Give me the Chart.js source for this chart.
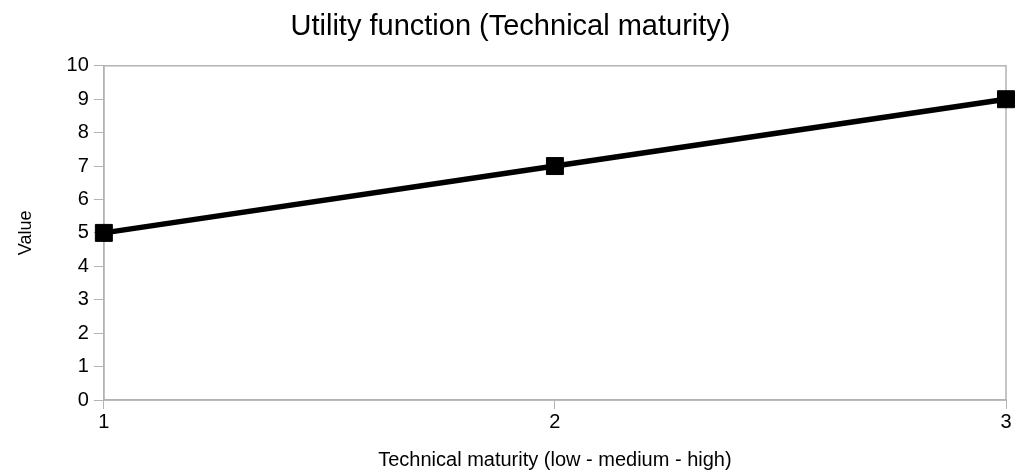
<!DOCTYPE html>
<html>
<head>
<meta charset="utf-8">
<script src="https://cdn.jsdelivr.net/npm/chart.js@4"></script>
<style>
  html, body { margin: 0; padding: 0; background: #fff; }
  #wrap { width: 1024px; height: 474px; }
</style>
</head>
<body>
<div id="wrap"><canvas id="c"></canvas></div>
<script>
const xValues = [1, 2, 3];
const utility = [5, 7, 9];
const yTicks = [0, 1, 2, 3, 4, 5, 6, 7, 8, 9, 10];

const GRAY = '#b3b3b3';
const FONT = "'Liberation Sans', Arial, sans-serif";

// gray frame around the plot area
const frame = {
  id: 'frame',
  beforeDatasetsDraw(chart) {
    const { ctx, chartArea: a } = chart;
    ctx.save();
    ctx.strokeStyle = GRAY;
    ctx.lineWidth = 1.5;
    ctx.strokeRect(a.left, a.top, a.right - a.left, a.bottom - a.top);
    ctx.restore();
  },
};

new Chart(document.getElementById('c'), {
  type: 'line',
  data: {
    datasets: [{
      data: xValues.map((x, i) => ({ x, y: utility[i] })),
      borderColor: '#000',
      backgroundColor: '#000',
      borderWidth: 5.5,
      pointStyle: 'rect',
      pointRadius: 12,
      pointHoverRadius: 12,
      pointBorderWidth: 1,
      tension: 0,
      clip: false,
    }],
  },
  options: {
    responsive: true,
    maintainAspectRatio: false,
    animation: false,
    layout: { padding: { left: 15, right: 18, top: 2, bottom: 2 } },
    plugins: {
      legend: { display: false },
      tooltip: { enabled: false },
      title: {
        display: true,
        text: 'Utility function (Technical maturity)',
        color: '#000',
        font: { family: FONT, size: 29, weight: 'normal' },
        padding: { top: 8, bottom: 21 },
      },
    },
    scales: {
      x: {
        type: 'linear',
        min: 1,
        max: 3,
        afterBuildTicks: s => { s.ticks = xValues.map(v => ({ value: v })); },
        grid: { drawOnChartArea: false, color: GRAY, tickLength: 9 },
        border: { color: GRAY, width: 1.5 },
        ticks: { color: '#000', font: { family: FONT, size: 20 }, padding: 1 },
        title: {
          display: true,
          text: 'Technical maturity (low - medium - high)',
          color: '#000',
          font: { family: FONT, size: 20 },
          padding: { top: 13, bottom: 0 },
        },
      },
      y: {
        min: 0,
        max: 10,
        afterBuildTicks: s => { s.ticks = yTicks.map(v => ({ value: v })); },
        grid: { drawOnChartArea: false, color: GRAY, tickLength: 10 },
        border: { color: GRAY, width: 1.5 },
        ticks: { color: '#000', font: { family: FONT, size: 20 }, padding: 5 },
        title: {
          display: true,
          text: 'Value',
          color: '#000',
          font: { family: FONT, size: 18 },
          padding: { top: 0, bottom: 25 },
        },
      },
    },
  },
  plugins: [frame],
});
</script>
</body>
</html>
